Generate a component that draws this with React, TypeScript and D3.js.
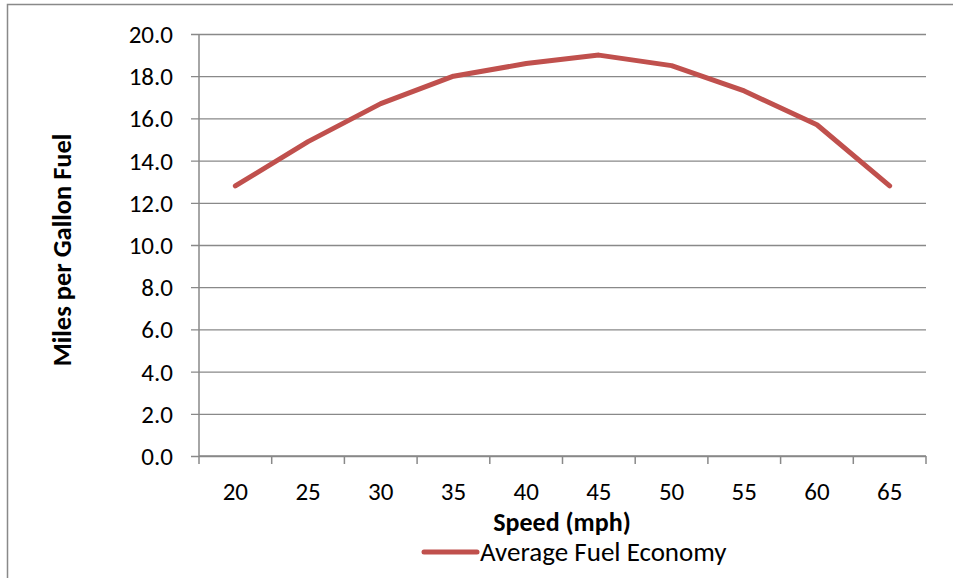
import React, { useEffect, useRef } from 'react';
import * as d3 from 'd3';

const speeds = ['20', '25', '30', '35', '40', '45', '50', '55', '60', '65'];
const fuelEconomy = [12.8, 14.9, 16.7, 18.0, 18.6, 19.0, 18.5, 17.3, 15.7, 12.8];
const yTicks = [0, 2, 4, 6, 8, 10, 12, 14, 16, 18, 20];

const seriesName = 'Average Fuel Economy';
const xTitle = 'Speed (mph)';
const yTitle = 'Miles per Gallon Fuel';

const W = 953;
const H = 578;
const FONT = 'Carlito, Calibri, Lato, sans-serif';
const GRID = '#898989';
const LINE = '#C0504D';

export default function App() {
  const svgRef = useRef<SVGSVGElement>(null);

  useEffect(() => {
    if (!svgRef.current) return;
    const svg = d3.select(svgRef.current);
    svg.selectAll('*').remove();

    const plot = { left: 199, right: 926, top: 34, bottom: 456 };

    // outer chart frame (right/bottom edges fall outside the view)
    svg.append('rect')
      .attr('x', 7.5)
      .attr('y', 4.5)
      .attr('width', 2000)
      .attr('height', 2000)
      .attr('fill', 'none')
      .attr('stroke', GRID)
      .attr('stroke-width', 1.5);

    const x = d3.scaleBand<string>()
      .domain(speeds)
      .range([plot.left, plot.right]);

    const y = d3.scaleLinear()
      .domain([0, 20])
      .range([plot.bottom, plot.top]);

    // horizontal gridlines + y ticks
    const yAxis = svg.append('g')
      .attr('transform', `translate(${plot.left},0)`)
      .call(
        d3.axisLeft(y)
          .tickValues(yTicks)
          .tickSize(-(plot.right - plot.left))
          .tickFormat(d => d3.format('.1f')(d as number))
      );
    yAxis.select('.domain').remove();
    yAxis.selectAll('line')
      .attr('stroke', GRID)
      .attr('stroke-width', 1.3)
      .attr('x1', -8);
    yAxis.selectAll('text')
      .attr('x', -26)
      .attr('dy', '0.34em')
      .attr('fill', '#000')
      .style('font-family', FONT)
      .style('font-size', '25px');

    // vertical axis line
    svg.append('line')
      .attr('x1', plot.left)
      .attr('x2', plot.left)
      .attr('y1', plot.top)
      .attr('y2', plot.bottom + 1)
      .attr('stroke', GRID)
      .attr('stroke-width', 1.5);

    // x axis with category tick marks between bands
    svg.append('line')
      .attr('x1', plot.left)
      .attr('x2', plot.right)
      .attr('y1', plot.bottom)
      .attr('y2', plot.bottom)
      .attr('stroke', GRID)
      .attr('stroke-width', 1.5);

    const edges = [...speeds.map(s => x(s)!), plot.right];
    svg.append('g')
      .selectAll('line')
      .data(edges)
      .enter().append('line')
      .attr('x1', d => d)
      .attr('x2', d => d)
      .attr('y1', plot.bottom)
      .attr('y2', plot.bottom + 8)
      .attr('stroke', GRID)
      .attr('stroke-width', 1.5);

    svg.append('g')
      .selectAll('text')
      .data(speeds)
      .enter().append('text')
      .attr('x', d => x(d)! + x.bandwidth() / 2)
      .attr('y', 500)
      .attr('text-anchor', 'middle')
      .style('font-family', FONT)
      .style('font-size', '25px')
      .attr('fill', '#000')
      .text(d => d);

    // series line
    const line = d3.line<number>()
      .x((_, i) => x(speeds[i])! + x.bandwidth() / 2)
      .y(d => y(d));

    svg.append('path')
      .datum(fuelEconomy)
      .attr('d', line)
      .attr('fill', 'none')
      .attr('stroke', LINE)
      .attr('stroke-width', 5)
      .attr('stroke-linejoin', 'round')
      .attr('stroke-linecap', 'round');

    // axis titles
    svg.append('text')
      .attr('transform', `translate(71, 250) rotate(-90)`)
      .attr('text-anchor', 'middle')
      .style('font-family', FONT)
      .style('font-size', '26.5px')
      .style('font-weight', 'bold')
      .attr('fill', '#000')
      .text(yTitle);

    svg.append('text')
      .attr('x', 562)
      .attr('y', 531)
      .attr('text-anchor', 'middle')
      .style('font-family', FONT)
      .style('font-size', '26px')
      .style('font-weight', 'bold')
      .attr('fill', '#000')
      .text(xTitle);

    // legend
    const legend = svg.append('g');
    legend.append('line')
      .attr('x1', 424)
      .attr('x2', 477)
      .attr('y1', 552)
      .attr('y2', 552)
      .attr('stroke', LINE)
      .attr('stroke-width', 5)
      .attr('stroke-linecap', 'round');
    legend.append('text')
      .attr('x', 480)
      .attr('y', 561)
      .style('font-family', FONT)
      .style('font-size', '27px')
      .attr('fill', '#000')
      .text(seriesName);
  }, []);

  return (
    <svg
      ref={svgRef}
      width={W}
      height={H}
      style={{ position: 'absolute', left: 0, top: 0, background: '#fff' }}
    />
  );
}
